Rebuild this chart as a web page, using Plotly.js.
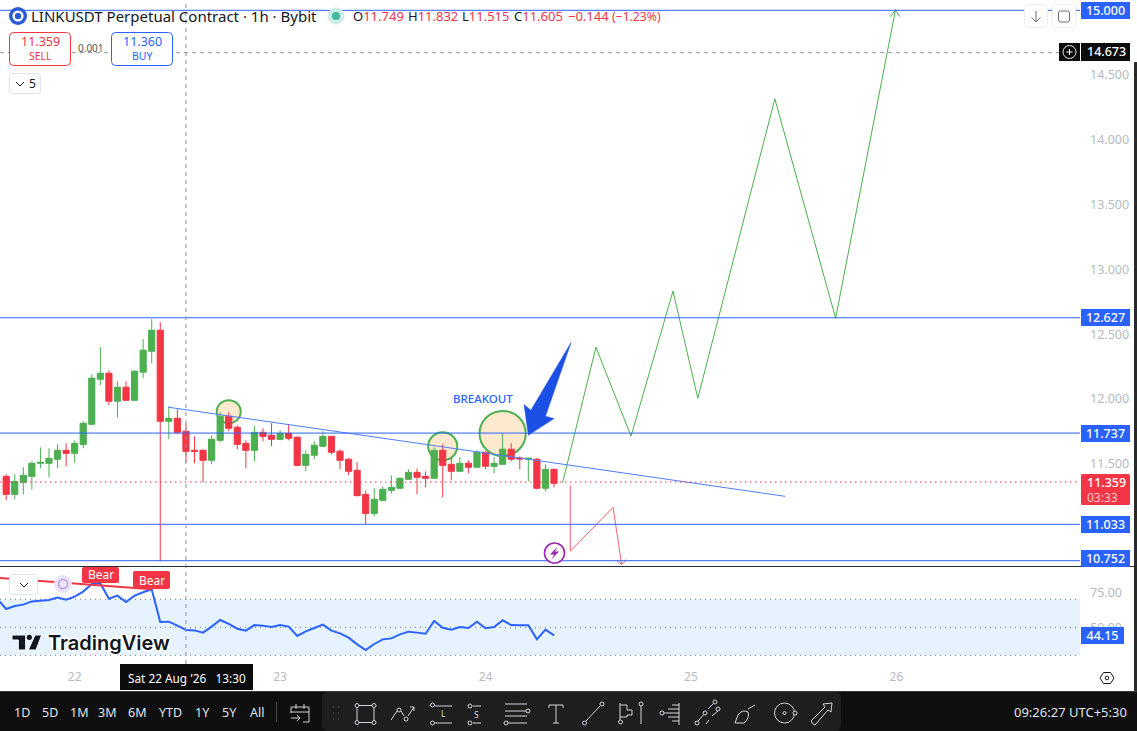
<!DOCTYPE html>
<html>
<head>
<meta charset="utf-8">
<title>LINKUSDT Perpetual Contract</title>
<script src="https://cdn.plot.ly/plotly-3.0.1.min.js"></script>
<style>
    html, body { margin: 0; padding: 0; background: #fff; overflow: hidden; }
    #chart { width: 1137px; height: 731px; }
</style>
</head>
<body>
<div id="chart"></div>
<script>
// Hours counted from 00:00 on the 22nd
const candleHours = [-8,-7,-6,-5,-4,-3,-2,-1,0,1,2,3,4,5,6,7,8,9,10,11,12,13,14,15,16,17,18,19,20,21,22,23,24,25,26,27,28,29,30,31,32,33,34,35,36,37,38,39,40,41,42,43,44,45,46,47,48,49,50,51,52,53,54,55,56];
const candleOpen = [11.403,11.264,11.357,11.403,11.504,11.504,11.535,11.604,11.581,11.650,11.805,12.153,12.199,11.983,12.091,11.990,12.207,12.369,12.531,11.828,11.851,11.751,11.604,11.604,11.527,11.681,11.867,11.782,11.658,11.604,11.743,11.720,11.689,11.735,11.705,11.488,11.566,11.635,11.712,11.597,11.535,11.450,11.264,11.117,11.218,11.295,11.311,11.380,11.434,11.403,11.388,11.604,11.496,11.442,11.504,11.473,11.589,11.481,11.496,11.612,11.545,11.535,11.535,11.311,11.457];
const candleHigh = [11.419,11.419,11.473,11.519,11.627,11.620,11.650,11.658,11.681,11.828,12.191,12.400,12.222,12.137,12.137,12.222,12.462,12.616,12.593,11.944,11.921,11.813,11.712,11.612,11.720,11.898,11.898,11.797,11.681,11.790,11.774,11.813,11.759,11.805,11.712,11.604,11.674,11.751,11.712,11.612,11.543,11.512,11.295,11.311,11.326,11.411,11.396,11.457,11.465,11.442,11.628,11.651,11.543,11.550,11.527,11.604,11.597,11.550,11.733,11.658,11.558,11.543,11.543,11.496,11.465];
const candleLow = [11.218,11.225,11.264,11.303,11.465,11.395,11.465,11.480,11.511,11.620,11.797,12.106,11.952,11.859,11.990,11.990,12.160,12.276,10.746,11.689,11.728,11.511,11.504,11.357,11.496,11.666,11.751,11.612,11.465,11.519,11.674,11.635,11.681,11.681,11.480,11.442,11.535,11.628,11.573,11.457,11.411,11.249,11.032,11.094,11.210,11.272,11.311,11.380,11.264,11.318,11.388,11.241,11.372,11.442,11.427,11.473,11.457,11.427,11.496,11.519,11.457,11.365,11.303,11.288,11.318];
const candleClose = [11.264,11.364,11.411,11.504,11.511,11.542,11.604,11.581,11.658,11.813,12.161,12.199,11.983,12.091,11.990,12.215,12.377,12.531,11.828,11.851,11.743,11.596,11.596,11.527,11.689,11.867,11.774,11.650,11.604,11.743,11.712,11.689,11.735,11.697,11.488,11.573,11.643,11.712,11.589,11.527,11.442,11.254,11.117,11.226,11.303,11.318,11.388,11.434,11.396,11.388,11.604,11.488,11.442,11.504,11.473,11.589,11.481,11.504,11.612,11.535,11.537,11.543,11.311,11.457,11.349];

const rsiHours = [-9,-8,-7,-6,-5,-4,-3,-2,-1,0,1,2,3,4,5,6,7,8,9,10,11,12,13,14,15,16,17,18,19,20,21,22,23,24,25,26,27,28,29,30,31,32,33,34,35,36,37,38,39,40,41,42,43,44,45,46,47,48,49,50,51,52,53,54,55,56];
const rsiValues = [70.0,63.1,65.2,66.2,68.5,68.8,69.5,71.2,69.7,71.9,75.5,80.9,81.4,70.4,72.6,68.1,72.6,75.0,77.1,53.8,54.0,51.2,48.1,47.8,46.2,50.5,55.2,52.4,49.0,47.6,51.6,51.2,50.2,51.6,50.5,43.8,47.1,49.5,51.9,47.6,45.7,42.6,37.8,33.8,38.1,41.4,42.1,45.0,46.9,46.2,45.4,54.5,49.7,48.3,50.2,49.5,54.0,49.3,50.2,55.0,51.6,51.4,51.4,41.4,48.3,44.2];
const divergenceHours = [-9, 9];
const divergenceValues = [85.3, 77.1];

const levelPrices = [15.000, 12.627, 11.737, 11.033, 10.752];
const levelLabels = ['15.000', '12.627', '11.737', '11.033', '10.752'];
const lastPrice = 11.359;
const crossHour = 13;
const crossPrice = 14.673;

const priceTicks = [11.5, 12, 12.5, 13, 13.5, 14, 14.5];
const priceTickLabels = ['11.500', '12.000', '12.500', '13.000', '13.500', '14.000', '14.500'];
const rsiTicks = [50, 75];
const rsiTickLabels = ['50.00', '75.00'];
const dayTicks = [0, 24, 48, 72, 96];
const dayLabels = ['22', '23', '24', '25', '26'];

// Hand drawn annotations on the chart
const zigzagHours = [57.0, 60.9, 65.0, 69.9, 72.8, 81.8, 88.9, 95.9, null, 95.3, 95.9, 96.4];
const zigzagPrices = [11.353, 12.400, 11.713, 12.833, 12.006, 14.317, 12.624, 15.005, null, 14.951, 15.005, 14.951];
const dropHours = [57.9, 57.9, 62.9, 63.9, null, 63.3, 63.9, 64.5];
const dropPrices = [11.334, 10.826, 11.164, 10.723, null, 10.755, 10.723, 10.760];
const trendHours = [10.9, 83.0];
const trendPrices = [11.937, 11.249];
const arrowHours = [58.0, 55.0, 56.0, 53.0, 52.5, 53.3, 58.0];
const arrowPrices = [12.437, 11.867, 11.849, 11.720, 11.957, 11.913, 12.437];
const circleHours = [[16.6, 19.4], [41.3, 44.7], [47.3, 52.7]];
const circlePrices = [[11.813, 11.991], [11.527, 11.743], [11.560, 11.908]];

const W = 1137;
const H = 731;
const BLUE = '#2962ff';
const RED = '#f23645';
const GREEN = '#4caf50';
const AXIS_GREY = '#b8bbc2';
const TEXT = '#131722';
const FONT = '"Noto Sans", sans-serif';
const TOOL = '#d1d4dc';
const PLOT_RIGHT = 1080 / W;

const px = x => x / W;
const py = y => 1 - y / H;

// Annotation at page pixels, used for all the interface text
function label(text, x, y, size, color, extra) {
    return Object.assign({
        text, xref: 'paper', yref: 'paper', x: px(x), y: py(y),
        xanchor: 'center', yanchor: 'middle', showarrow: false,
        borderpad: 0, borderwidth: 0,
        font: { family: FONT, size, color },
    }, extra);
}

function priceBadge(text, value, color, shift) {
    return {
        text, xref: 'paper', yref: 'y', x: px(1081), y: value, yshift: shift,
        xanchor: 'left', yanchor: 'middle', showarrow: false,
        width: 49, height: 17, bgcolor: color, borderpad: 0, borderwidth: 0, align: 'center',
        font: { family: FONT, size: 12.5, color: '#fff', weight: 500 },
    };
}

// Interface drawing, paths are in page pixels with y going down
function chromePath(d, line, fill) {
    let i = 0;
    const path = d.replace(/-?[\d.]+/g, n => (i++ % 2 ? String(-n) : n));
    return {
        type: 'path', xref: 'paper', yref: 'paper', xsizemode: 'pixel', ysizemode: 'pixel',
        xanchor: 0, yanchor: 1, path, layer: 'above',
        line: line ? { color: line, width: 1 } : { width: 0 },
        fillcolor: fill || 'rgba(0,0,0,0)',
    };
}

function chromeCircle(cx, cy, r, line, fill, width) {
    return {
        type: 'circle', xref: 'paper', yref: 'paper', xsizemode: 'pixel', ysizemode: 'pixel',
        xanchor: 0, yanchor: 1, x0: cx - r, x1: cx + r, y0: -cy - r, y1: -cy + r, layer: 'above',
        line: line ? { color: line, width: width || 1 } : { width: 0 },
        fillcolor: fill || 'rgba(0,0,0,0)',
    };
}

function roundRect(x0, y0, x1, y1, r) {
    return `M${x0 + r} ${y0} L${x1 - r} ${y0} Q${x1} ${y0} ${x1} ${y0 + r} L${x1} ${y1 - r} Q${x1} ${y1} ${x1 - r} ${y1} L${x0 + r} ${y1} Q${x0} ${y1} ${x0} ${y1 - r} L${x0} ${y0 + r} Q${x0} ${y0} ${x0 + r} ${y0} Z`;
}

const traces = [
    {
        type: 'candlestick', x: candleHours, open: candleOpen, high: candleHigh, low: candleLow, close: candleClose,
        xaxis: 'x', yaxis: 'y', whiskerwidth: 0,
        increasing: { line: { color: GREEN, width: 1 }, fillcolor: GREEN },
        decreasing: { line: { color: RED, width: 1 }, fillcolor: RED },
    },
    { type: 'scatter', mode: 'lines', x: zigzagHours, y: zigzagPrices, xaxis: 'x', yaxis: 'y', line: { color: GREEN, width: 1 } },
    { type: 'scatter', mode: 'lines', x: dropHours, y: dropPrices, xaxis: 'x', yaxis: 'y', line: { color: '#f4606c', width: 1 } },
    { type: 'scatter', mode: 'lines', x: trendHours, y: trendPrices, xaxis: 'x', yaxis: 'y', line: { color: '#4d7dff', width: 1 } },
    {
        type: 'scatter', mode: 'lines', x: arrowHours, y: arrowPrices, xaxis: 'x', yaxis: 'y',
        fill: 'toself', fillcolor: '#1c50e4', line: { color: '#1c50e4', width: 0.5 },
    },
    { type: 'scatter', mode: 'lines', x: rsiHours, y: rsiValues, xaxis: 'x', yaxis: 'y2', line: { color: BLUE, width: 2 } },
    { type: 'scatter', mode: 'lines', x: divergenceHours, y: divergenceValues, xaxis: 'x', yaxis: 'y2', line: { color: RED, width: 2 } },
];

// Chart lines
const shapes = [];
for (const price of levelPrices) {
    shapes.push({ type: 'line', xref: 'paper', yref: 'y', x0: 0, x1: PLOT_RIGHT, y0: price, y1: price, line: { color: BLUE, width: 1 }, layer: 'above' });
}
shapes.push({ type: 'line', xref: 'paper', yref: 'y', x0: 0, x1: PLOT_RIGHT, y0: lastPrice, y1: lastPrice, line: { color: RED, width: 1, dash: '1.5px,3.5px' } });
shapes.push({ type: 'line', xref: 'paper', yref: 'y', x0: 0, x1: px(1059), y0: crossPrice, y1: crossPrice, line: { color: '#8f929b', width: 1, dash: '4px,4px' } });
shapes.push({ type: 'line', xref: 'x', yref: 'paper', x0: crossHour, x1: crossHour, y0: py(664), y1: 1, line: { color: '#8f929b', width: 1, dash: '4px,4px' } });
circleHours.forEach((hours, i) => {
    shapes.push({
        type: 'circle', xref: 'x', yref: 'y', x0: hours[0], x1: hours[1], y0: circlePrices[i][0], y1: circlePrices[i][1],
        fillcolor: '#fde9cd', line: { color: GREEN, width: 2 }, layer: 'below',
    });
});

// RSI band
shapes.push({ type: 'rect', xref: 'paper', yref: 'y2', x0: 0, x1: PLOT_RIGHT, y0: 30, y1: 70, fillcolor: '#e6f3fe', line: { width: 0 }, layer: 'below' });
for (const level of [30, 50, 70]) {
    shapes.push({ type: 'line', xref: 'paper', yref: 'y2', x0: 0, x1: PLOT_RIGHT, y0: level, y1: level, line: { color: '#787b86', width: 1, dash: '1px,4px' }, layer: 'below' });
}

// Interface chrome
shapes.push(
    chromePath('M0 566.5 L1134 566.5', '#2a2e39'),
    chromePath('M1134 62 L1137 62 L1137 731 L1134 731 Z', null, '#2b2b2b'),
    chromeCircle(18, 16, 9, null, '#2a5ada'),
    chromeCircle(18, 16, 4.4, '#fff', null, 2.4),
    chromeCircle(336, 16, 8.5, null, '#cfeee8'),
    chromeCircle(336, 16, 4, null, '#3fb8a0'),
    chromePath(roundRect(9.5, 32.5, 70.5, 65.5, 4), RED, '#fff'),
    chromePath(roundRect(111.5, 32.5, 172.5, 65.5, 4), BLUE, '#fff'),
    chromePath(roundRect(9.5, 73.5, 40.5, 93.5, 3), '#e0e3eb', '#fff'),
    chromePath('M16 82 L20 86 L24 82', TEXT),
    chromePath(roundRect(1024.5, 4.5, 1047.5, 27.5, 5), '#eceef2', '#fff'),
    chromePath(roundRect(1052.5, 4.5, 1075.5, 27.5, 5), '#eceef2', '#fff'),
    chromePath('M1036 11 L1036 22 M1031.5 17.5 L1036 22 L1040.5 17.5', '#6a6d78'),
    chromePath(roundRect(1058.5, 11, 1069.5, 22, 2), '#6a6d78'),
    chromePath('M1059 43 L1080 43 L1080 61 L1059 61 Z', null, '#0c0c0c'),
    chromeCircle(1069.5, 52, 6.5, '#e8e8e8'),
    chromePath('M1066.5 52 L1072.5 52 M1069.5 49 L1069.5 55', '#fff'),
    chromePath('M1081 43 L1130 43 L1130 61 L1081 61 Z', null, '#0c0c0c'),
    chromePath(roundRect(1081, 474, 1130, 505, 1.5), null, RED),
    chromeCircle(554.5, 553, 10, '#9c27b0', '#fff', 1.6),
    chromePath('M557.5 546.5 L550 554.5 L554 554.5 L551.5 559.5 L559 551.5 L555 551.5 Z', null, '#9c27b0'),
    chromePath(roundRect(9.5, 574.5, 37.5, 594.5, 3), '#e0e3eb', '#fff'),
    chromePath('M20 583 L24 587 L28 583', TEXT),
    chromeCircle(63, 584, 9, null, '#ece3fb'),
    chromeCircle(63, 584, 4.5, '#b79ee8', null, 1.5),
    chromePath(roundRect(82, 567, 119, 583, 2), null, RED),
    chromePath(roundRect(133, 571, 170, 589, 2), null, RED),
    chromePath('M12 635 L25.7 635 L25.7 650 L18.3 650 L18.3 640 L12 640 Z', '#fff', '#131722'),
    chromeCircle(29.3, 637.3, 2.6, null, '#131722'),
    chromePath('M35 635 L41.7 635 L36 650 L28.3 650 Z', '#fff', '#131722'),
    chromePath('M120 664 L253 664 L253 690 L120 690 Z', null, '#0c0c0c'),
    chromePath('M1100 678 L1103.5 672.5 L1110.5 672.5 L1114 678 L1110.5 683.5 L1103.5 683.5 Z', '#131722'),
    chromeCircle(1107, 678, 1.8, '#131722'),
    chromePath('M0 692 L1137 692 L1137 731 L0 731 Z', null, '#0f0f0f'),
    chromePath('M0 691.5 L1137 691.5', '#3a3a3a'),
    chromePath('M322 692 L835 692 Q841 692 841 698 L841 725 Q841 731 835 731 L328 731 Q322 731 322 725 L322 698 Q322 692 328 692 Z', null, '#1e1e1e'),
    chromePath('M276.5 702 L276.5 722', '#4a4a4a'),
    chromePath('M291 707 L309 707 L309 722 L303 722 M291 707 L291 713 M291 712 L309 712 M296 704 L296 709 M304 704 L304 709 M291 718 L300 718 M297 715 L300 718 L297 721', TOOL),
    chromePath('M333 707 L334 707 M338 707 L339 707 M333 713 L334 713 M338 713 L339 713 M333 719 L334 719 M338 719 L339 719', '#555'),
    chromePath('M357 705.5 L374 705.5 L374 722.5 L357 722.5 Z', TOOL),
    chromePath('M391 720 L397 711 M401 711 L404 716 M408 716 L414 707 M410 707 L414 707 L414 711', TOOL),
    chromePath('M435 706 L452 706 M435 723 L452 723', TOOL),
    chromePath('M473 706 L481 706 M473 723 L481 723', TOOL),
    chromePath('M505 704 L527 704 M505 711 L526 711 M505 716 L527 716 M508 723 L527 723', TOOL),
    chromePath('M549 708 L549 705 L563 705 L563 708 M556 705 L556 723 M553 723 L559 723', TOOL),
    chromePath('M586 721 L600 706', TOOL),
    chromePath('M620 703 L620 720 M620 705 L627 705 L627 710 L632 710 L632 715 L627 715 L627 717 L620 717 M641 706 L641 724', TOOL),
    chromePath('M664 713 L679 713 M668 709 L679 709 M672 705 L679 705 M668 717 L679 717 M672 721 L679 721 M679 703 L679 725', TOOL),
    chromePath('M698 721 L706 712 M708 709 L714 703 M706 724 L709 720 M712 716 L719 710', TOOL),
    chromePath('M735 723 L738 715 Q742 709 748 712 Q750 718 744 723 Z M748 709 L755 705', TOOL),
    chromeCircle(784.5, 713, 10, TOOL),
    chromeCircle(784.5, 713, 1.5, TOOL),
    chromePath('M813 724 L811 721 L825 707 L823 704 L832 703 L831 712 L828 710 L815 725 Z', TOOL),
);
const toolDots = [[357,705.5],[374,705.5],[357,722.5],[374,722.5],[399,710],[406,719],[432.5,705],[432.5,723],[470,706],[470,723],[528,711],[506,723],[584.5,723],[602,704],[620.5,722],[641,704],[662,713],[697,723],[715,702],[705,713],[718,709],[795,713]];
for (const [x, y] of toolDots) shapes.push(chromeCircle(x, y, 2, TOOL, '#1e1e1e'));

const periodLabels = ['1D', '5D', '1M', '3M', '6M', 'YTD', '1Y', '5Y', 'All'];
const periodX = [22, 50, 79, 108, 137, 170, 202, 229, 257];

const annotations = [
    label('LINKUSDT Perpetual Contract · 1h · Bybit', 31, 16, 15, TEXT, { xanchor: 'left' }),
    label('BREAKOUT', 483, 398, 11.5, BLUE, { font: { family: FONT, size: 11.5, color: BLUE, weight: 500 } }),
    label('11.359', 40, 42, 12.5, RED),
    label('SELL', 40, 56, 10.5, RED),
    label('0.001', 91, 48, 10, '#50535e'),
    label('11.360', 142, 42, 12.5, BLUE),
    label('BUY', 142, 56, 10.5, BLUE),
    label('5', 32, 84, 12, TEXT),
    label('Bear', 100.5, 574, 12, '#fff'),
    label('Bear', 151.5, 580, 12, '#fff'),
    label('TradingView', 48, 643, 20, '#131722', {
        xanchor: 'left',
        font: { family: '"Inter", sans-serif', size: 20, color: '#131722', weight: 600, shadow: '2px 0 0 #fff, -2px 0 0 #fff, 0 2px 0 #fff, 0 -2px 0 #fff' },
    }),
    label("Sat 22 Aug '26&#160;&#160;&#160;13:30", 186.5, 677.5, 11.8, '#fff'),
    label('11.359', 1106, 482, 12.5, '#fff', { font: { family: FONT, size: 12.5, color: '#fff', weight: 500 } }),
    label('03:33', 1102, 497.5, 12, '#fbc5ca'),
    label('14.673', 1106, 52, 12.5, '#fff', { font: { family: FONT, size: 12.5, color: '#fff', weight: 500 } }),
    label('09:26:27 UTC+5:30', 1127, 712, 13, '#e0e3eb', { xanchor: 'right' }),
    label('L', 443, 713, 8.5, TOOL),
    label('S', 476, 714, 8.5, TOOL),
];

// O H L C readout
const ohlcLetters = ['O', 'H', 'L', 'C'];
const ohlcValues = ['11.749', '11.832', '11.515', '11.605'];
const ohlcX = [352.5, 407.5, 461.5, 514];
ohlcLetters.forEach((letter, i) => {
    annotations.push(label(`${letter}<span style="color:${RED}">${ohlcValues[i]}</span>`, ohlcX[i], 16, 13, TEXT, { xanchor: 'left' }));
});
annotations.push(label('\u22120.144', 568, 16, 13, RED, { xanchor: 'left' }));
annotations.push(label('(\u22121.23%)', 611.5, 16, 12.2, RED, { xanchor: 'left' }));

levelPrices.forEach((price, i) => annotations.push(priceBadge(levelLabels[i], price, BLUE, price === 10.752 ? 2 : 0)));
annotations.push({
    text: '44.15', xref: 'paper', yref: 'y2', x: px(1081), y: 44.15, xanchor: 'left', yanchor: 'middle', showarrow: false,
    width: 43, height: 17, bgcolor: BLUE, borderpad: 0, borderwidth: 0, align: 'center',
    font: { family: FONT, size: 12.5, color: '#fff', weight: 500 },
});
periodLabels.forEach((text, i) => annotations.push(label(text, periodX[i], 712, 12.5, '#e0e3eb')));

const layout = {
    width: W,
    height: H,
    margin: { l: 0, r: 0, t: 0, b: 0, pad: 0 },
    paper_bgcolor: '#fff',
    plot_bgcolor: 'rgba(0,0,0,0)',
    showlegend: false,
    boxgap: 0,
    boxgroupgap: 0.28,
    xaxis: {
        domain: [0, PLOT_RIGHT],
        range: [-8.723, 117.45],
        anchor: 'y2',
        tickmode: 'array',
        tickvals: dayTicks,
        ticktext: dayLabels,
        showgrid: false,
        zeroline: false,
        showline: false,
        ticks: '',
        ticklabelstandoff: 4,
        rangeslider: { visible: false },
        tickfont: { family: FONT, size: 12, color: AXIS_GREY },
    },
    yaxis: {
        domain: [py(566), 1],
        range: [10.7112, 15.0795],
        side: 'right',
        anchor: 'x',
        tickmode: 'array',
        tickvals: priceTicks,
        ticktext: priceTickLabels,
        showgrid: false,
        zeroline: false,
        showline: false,
        ticks: '',
        ticklabelstandoff: 9,
        tickfont: { family: FONT, size: 12.5, color: AXIS_GREY },
    },
    yaxis2: {
        domain: [py(664), py(567)],
        range: [23.8, 93.07],
        side: 'right',
        anchor: 'x',
        tickmode: 'array',
        tickvals: rsiTicks,
        ticktext: rsiTickLabels,
        showgrid: false,
        zeroline: false,
        showline: false,
        ticks: '',
        ticklabelstandoff: 9,
        tickfont: { family: FONT, size: 12.5, color: AXIS_GREY },
    },
    shapes,
    annotations,
};

Plotly.newPlot('chart', traces, layout, { staticPlot: true, displayModeBar: false, responsive: false });
</script>
</body>
</html>
